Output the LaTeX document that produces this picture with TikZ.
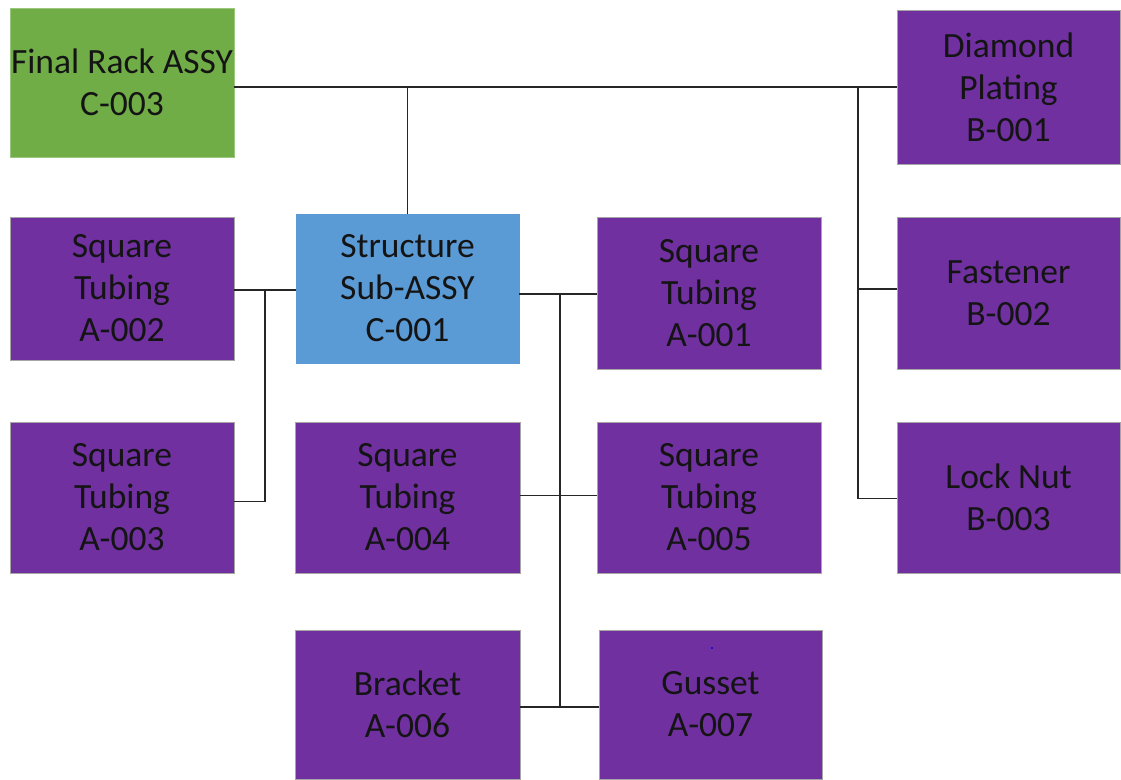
\documentclass[tikz,border=0pt]{standalone}
\usepackage{fontspec}
\setmainfont{Carlito}
\definecolor{cpurple}{HTML}{7030A0}
\definecolor{cgreen}{HTML}{70AD47}
\definecolor{cblue}{HTML}{5B9BD5}
\definecolor{ctext}{HTML}{141414}
\begin{document}
\begin{tikzpicture}[x=1pt,y=-1pt,
  box/.style={draw=gray!70,line width=0.8pt,minimum width=224pt,minimum height=150pt,inner sep=0pt,
    align=center,text=ctext,font=\fontsize{35.5}{42}\selectfont},
  part/.style={box,fill=cpurple},
  link/.style={draw=black!85,line width=1.5pt}]
\useasboundingbox (0,0) rectangle (1121,779);
\node[box,fill=cgreen,draw=cgreen!70!white,minimum height=149pt] (C003) at (122,82.5) {Final Rack ASSY\\C-003};
\node[part,minimum width=223pt,minimum height=154pt] (B001) at (1008.5,87) {Diamond\\Plating\\B-001};
\node[part,minimum height=143pt] (A002) at (122,288.5) {Square\\Tubing\\A-002};
\node[box,fill=cblue,draw=cblue,minimum width=223pt,minimum height=149pt] (C001) at (407.5,288.5) {Structure\\Sub-ASSY\\C-001};
\node[part,minimum height=152pt] (A001) at (709,293) {Square\\Tubing\\A-001};
\node[part,minimum width=223pt,minimum height=152pt] (B002) at (1008.5,293) {Fastener\\B-002};
\node[part,minimum height=151pt] (A003) at (122,497.5) {Square\\Tubing\\A-003};
\node[part,minimum width=225pt,minimum height=151pt] (A004) at (407.5,497.5) {Square\\Tubing\\A-004};
\node[part,minimum height=151pt] (A005) at (709,497.5) {Square\\Tubing\\A-005};
\node[part,minimum width=223pt,minimum height=151pt] (B003) at (1008.5,497.5) {Lock Nut\\B-003};
\node[part,minimum width=225pt,minimum height=149pt] (A006) at (407.5,704.5) {Bracket\\A-006};
\node[part,minimum width=223pt,minimum height=149pt] (A007) at (710.5,704.5) {Gusset\\A-007};
\fill[blue] (712,648) circle (1.2pt);
% top level
\draw[link] (B001.west) -- (B001.west -| C003.east);
\draw[link] (C001.north) -- (C001.north |- B001.west);
\coordinate (bx) at (858,87);
\draw[link] (bx) |- ([yshift=-1pt]B003.west);
\draw[link] ([yshift=4pt]B002.west) -- ([yshift=4pt]B002.west -| bx);
% left branch
\coordinate (lx) at (265,290);
\draw[link] (A002.east |- lx) -- (C001.west |- lx);
\draw[link] (lx) |- ([yshift=-4pt]A003.east);
% right branch
\coordinate (rx) at (560,294);
\coordinate (ry) at (560,707);
\draw[link] (C001.east |- rx) -- (A001.west |- rx);
\draw[link] (rx) -- (ry);
\draw[link] ([yshift=2pt]A004.east) -- ([yshift=2pt]A005.west);
\draw[link] (A006.east |- ry) -- (A007.west |- ry);
\end{tikzpicture}
\end{document}
